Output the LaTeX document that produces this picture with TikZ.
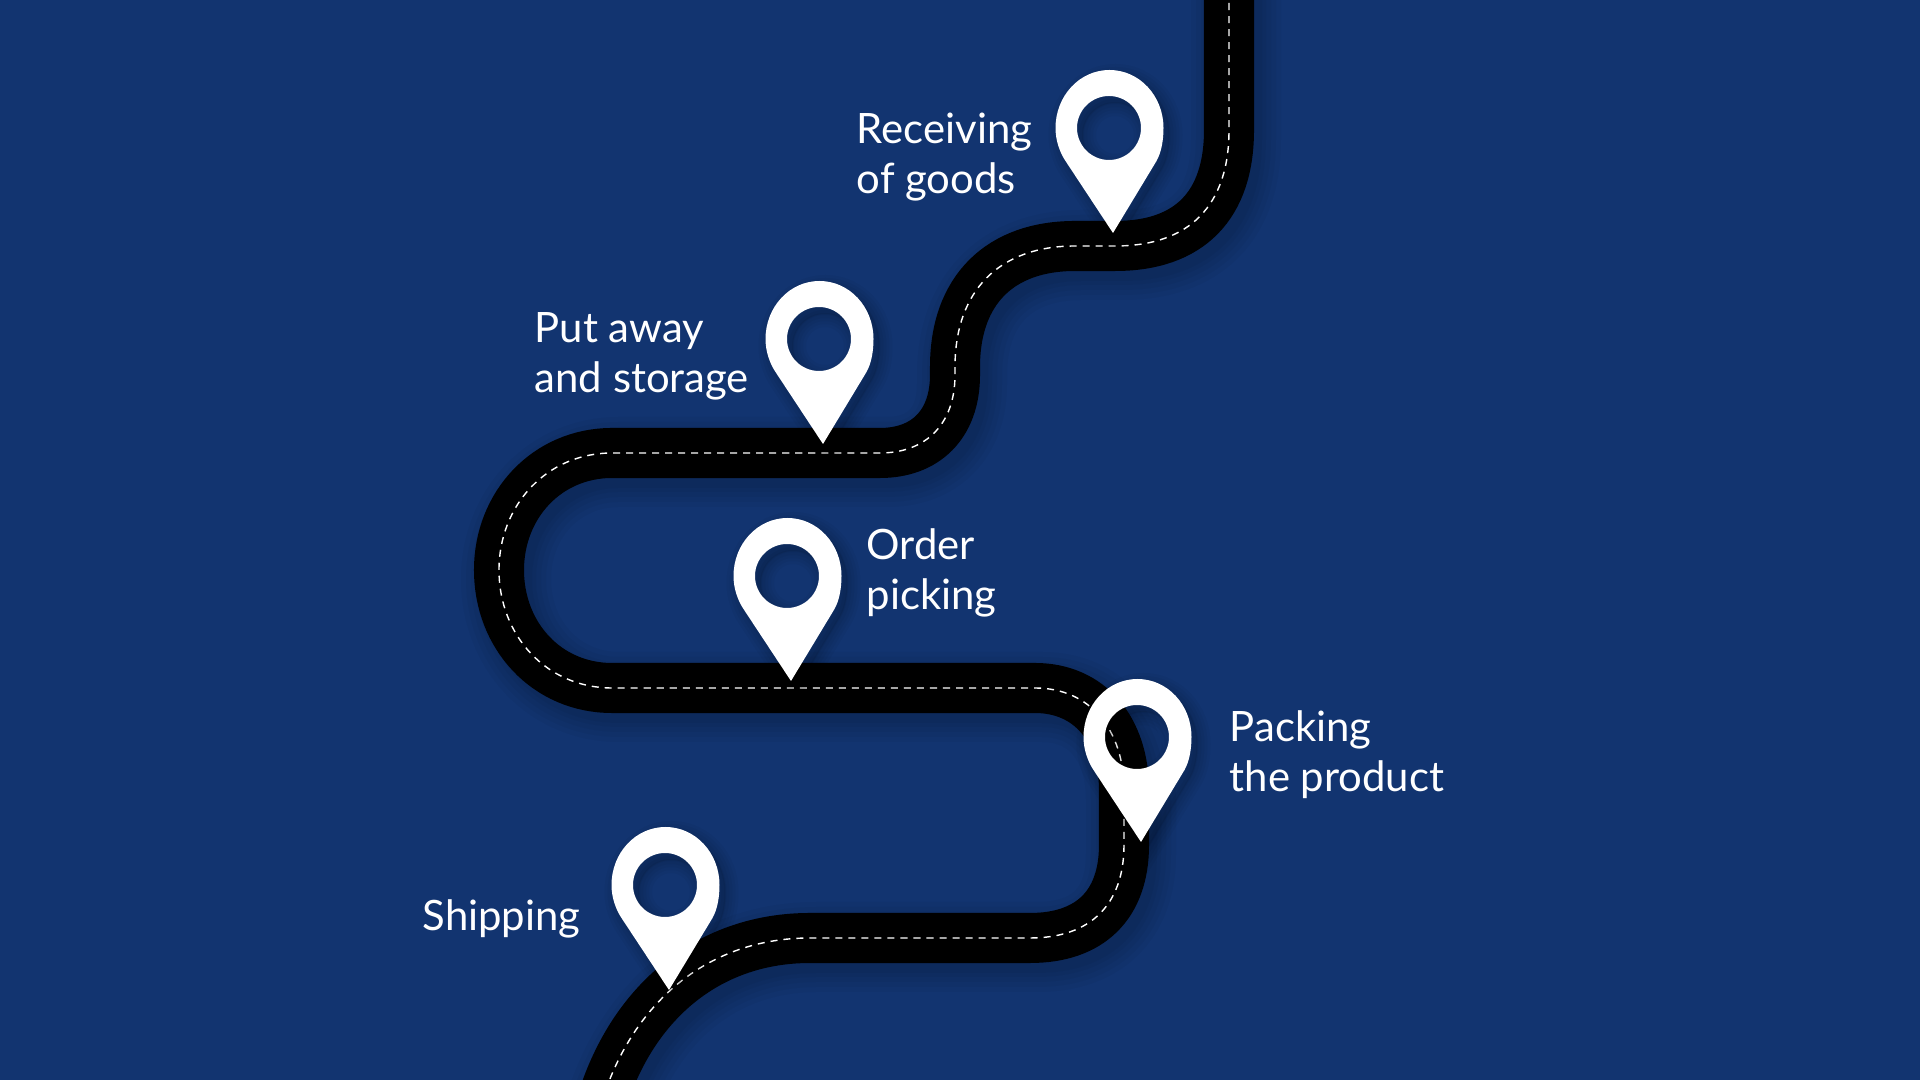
\documentclass[tikz,border=0pt]{standalone}
\usepackage{fontspec}
\setmainfont{Lato}
\usetikzlibrary{calc,positioning}
\definecolor{bgblue}{HTML}{123470}

% Road centre line, in pixels of the reference
\newcommand{\roadline}{(1229,-10) -- (1229,130) .. controls (1229,205) and (1190,246) .. (1115,246)
	-- (1075,246) .. controls (1000,246) and (955,290) .. (955,367)
	-- (955,375) .. controls (955,425) and (925,453) .. (880,453)
	-- (612,453) .. controls (547,453) and (499,505) .. (499,570)
	.. controls (499,636) and (547,688) .. (612,688)
	-- (1035,688) .. controls (1090,688) and (1124,730) .. (1124,790)
	-- (1124,845) .. controls (1124,905) and (1090,938) .. (1030,938)
	-- (810,938) .. controls (710,938) and (636,1000) .. (604,1095)}
\newcommand{\pinline}{(4,105) -- (47.5,33) .. controls (52.5,24) and (54.5,12) .. (54.5,0)
	.. controls (54.5,-32) and (30.5,-58) .. (0.5,-58) .. controls (-29.5,-58) and (-53.5,-32) .. (-53.5,0)
	.. controls (-53.5,12) and (-49.5,24) .. (-43.5,33) -- cycle}
\newcommand{\pinhole}{(0,0) circle (32)}

\tikzset{
	lbl/.style={text=white, align=left, anchor=west, inner sep=0pt,
		font=\fontsize{11.9}{14.2}\selectfont},
	mappin/.pic={
		% Soft shadow
		\begin{scope}[shift={(6,7)}]
			\foreach \w in {26,20,14,8,2}
				\draw[black, line width=\w*0.01cm, opacity=0.035] \pinline \pinhole;
			\fill[black, opacity=0.08, even odd rule] \pinline \pinhole;
		\end{scope}
		% Pin
		\fill[white, even odd rule] \pinline \pinhole;
	}
}

\begin{document}
\begin{tikzpicture}[x=0.01cm,y=-0.01cm]
	\useasboundingbox (0,0) rectangle (1920,1080);
	\fill[bgblue] (0,0) rectangle (1920,1080);

	% Road shadow
	\begin{scope}[shift={(7,9)}]
		\foreach \w in {90,80,70,60,52}
			\draw[black, line width=\w*0.01cm, opacity=0.03] \roadline;
	\end{scope}

	% Road
	\draw[black, line width=0.5cm] \roadline;
	\draw[white, line width=0.4pt, dash pattern=on 2pt off 1.7pt] \roadline;

	% Pins
	\pic at (1109,128) {mappin};
	\pic at (819,339) {mappin};
	\pic at (787,576) {mappin};
	\pic at (1137,737) {mappin};
	\pic at (665,885) {mappin};

	% Labels
	\node[lbl] (receiving) at (856,157) {Receiving\\of goods};
	\node[lbl] (putaway) at (534,356) {Put away\\and storage};
	\node[lbl] (picking) at (866,573) {Order\\picking};
	\node[lbl] (packing) at (1229,755) {Packing\\the product};
	\node[lbl] (shipping) at (422,919) {Shipping};
\end{tikzpicture}
\end{document}
